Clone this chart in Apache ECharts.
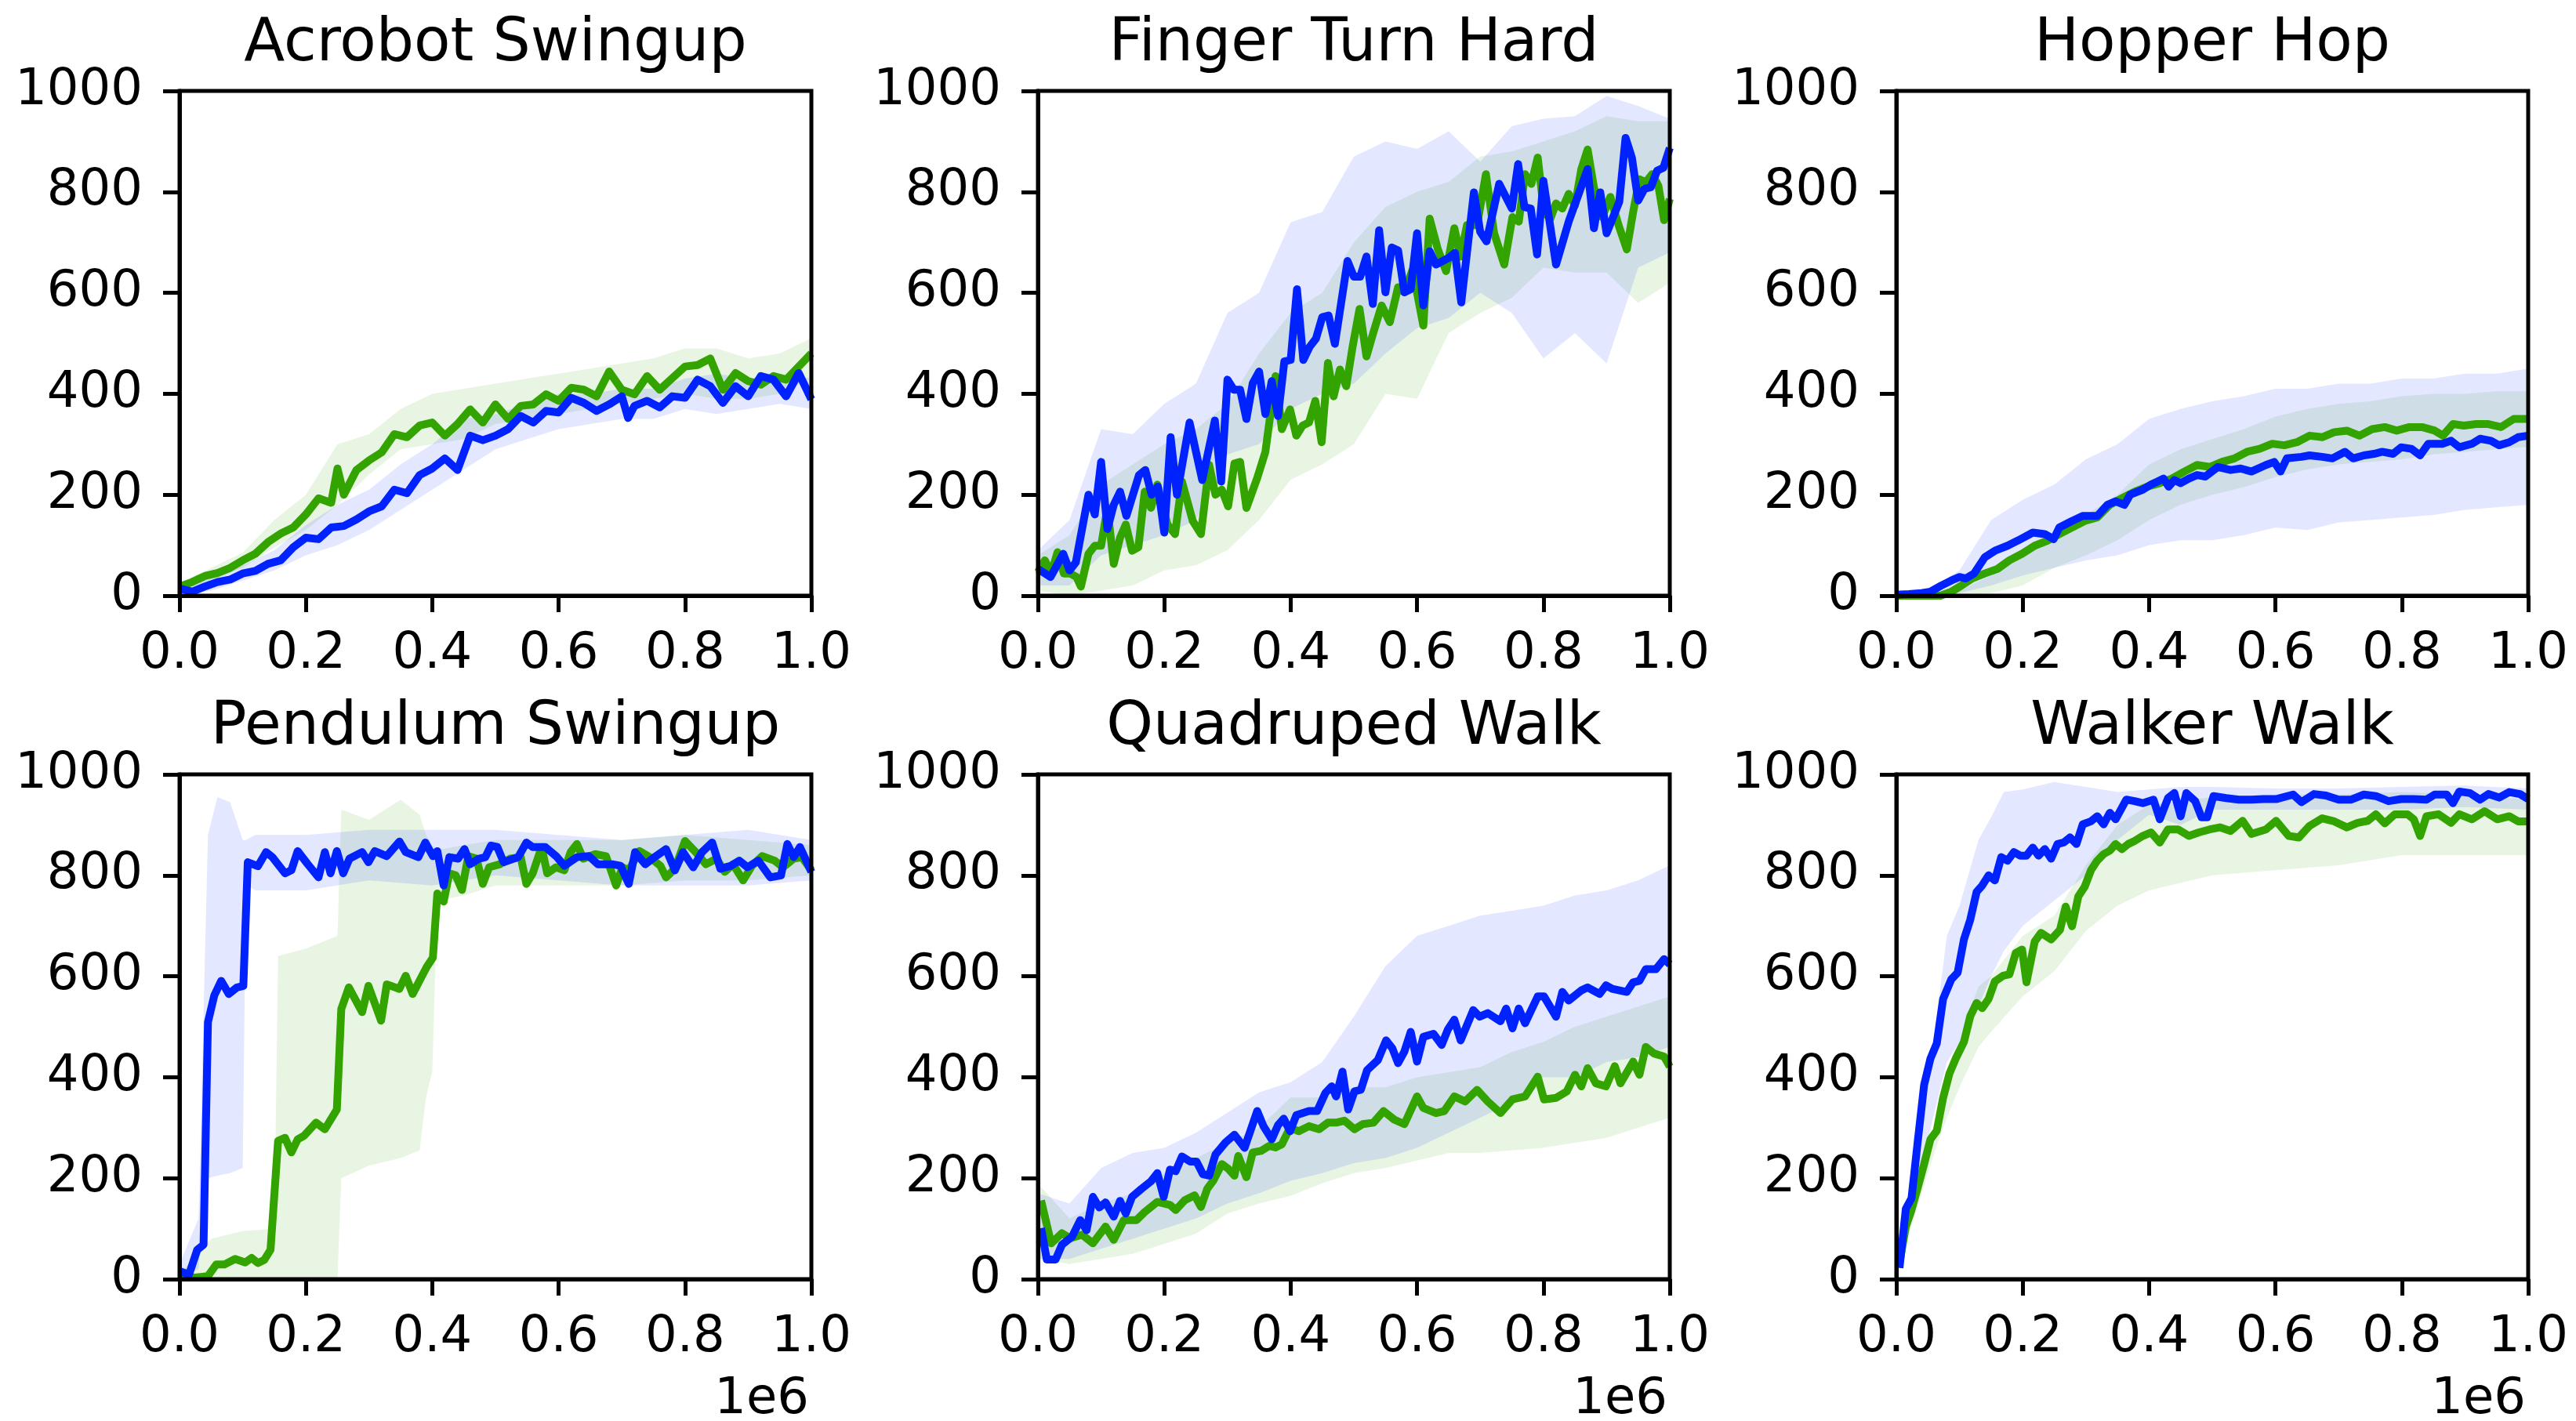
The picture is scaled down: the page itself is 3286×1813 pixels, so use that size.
<!DOCTYPE html>
<html><head><meta charset="utf-8">
<script src="https://cdn.jsdelivr.net/npm/echarts@6/dist/echarts.min.js"></script>
<style>html,body{margin:0;padding:0;background:#fff}#c{width:3286px;height:1813px}</style>
</head><body><div id="c"></div>
<script>
const titles = ['Acrobot Swingup','Finger Turn Hard','Hopper Hop','Pendulum Swingup','Quadruped Walk','Walker Walk'];
const xTickStep = 0.2, xMin = 0, xMax = 1;
const yTickStep = 200, yMin = 0, yMax = 1000;
const offsetText = '1e6';

// ---------- Acrobot Swingup ----------
const acroGreen = [[0,18],[0.02,27],[0.04,39],[0.06,45],[0.08,55],[0.1,70],[0.12,83],[0.14,106],[0.16,123],[0.18,135],[0.2,161],[0.22,193],[0.24,184],[0.25,252],[0.26,200],[0.28,249],[0.3,268],[0.32,284],[0.34,320],[0.36,314],[0.38,337],[0.4,343],[0.42,317],[0.44,340],[0.46,369],[0.48,343],[0.5,379],[0.52,350],[0.54,376],[0.56,379],[0.58,399],[0.6,386],[0.62,412],[0.64,408],[0.66,395],[0.68,444],[0.7,408],[0.72,399],[0.74,435],[0.76,408],[0.78,431],[0.8,454],[0.82,457],[0.84,470],[0.86,408],[0.88,441],[0.9,425],[0.92,418],[0.94,435],[0.96,428],[0.98,454],[1,480]];
const acroBlue = [[0,14],[0.02,8],[0.04,18],[0.06,27],[0.08,32],[0.1,44],[0.12,49],[0.14,63],[0.16,70],[0.18,96],[0.2,115],[0.22,112],[0.24,135],[0.26,138],[0.28,151],[0.3,167],[0.32,177],[0.34,210],[0.36,203],[0.38,239],[0.4,252],[0.42,272],[0.44,249],[0.46,317],[0.48,308],[0.5,317],[0.52,330],[0.54,356],[0.56,343],[0.58,366],[0.6,363],[0.62,392],[0.64,382],[0.66,366],[0.68,379],[0.7,395],[0.71,352],[0.72,376],[0.74,386],[0.76,373],[0.78,395],[0.8,392],[0.82,428],[0.84,415],[0.86,382],[0.88,415],[0.9,395],[0.92,435],[0.94,428],[0.96,395],[0.98,441],[1,389]];
const acroGreenBand = [[0,10,25],[0.05,30,55],[0.1,55,85],[0.15,95,150],[0.2,130,200],[0.25,180,300],[0.3,240,320],[0.35,290,370],[0.4,300,400],[0.45,310,410],[0.5,340,420],[0.55,350,430],[0.6,360,440],[0.65,370,450],[0.7,380,460],[0.75,390,470],[0.8,400,490],[0.85,390,490],[0.9,390,470],[0.95,400,480],[1,430,510]];
const acroBlueBand = [[0,0,20],[0.05,10,35],[0.1,30,60],[0.15,50,90],[0.2,80,140],[0.25,100,180],[0.3,130,210],[0.35,170,260],[0.4,210,300],[0.45,250,350],[0.5,290,360],[0.55,310,380],[0.6,330,400],[0.65,340,400],[0.7,350,410],[0.75,350,410],[0.8,370,430],[0.85,360,440],[0.9,370,430],[0.95,380,440],[1,370,430]];

// ---------- Finger Turn Hard ----------
const fingGreen = [[0,47],[0.011,70],[0.021,44],[0.031,86],[0.041,44],[0.051,44],[0.061,37],[0.068,18],[0.08,83],[0.09,99],[0.1,99],[0.11,174],[0.12,63],[0.13,115],[0.139,141],[0.149,89],[0.159,96],[0.169,206],[0.179,174],[0.189,220],[0.205,141],[0.217,122],[0.228,226],[0.245,148],[0.258,122],[0.271,259],[0.281,200],[0.291,210],[0.301,177],[0.311,262],[0.32,265],[0.33,174],[0.347,233],[0.36,285],[0.376,435],[0.386,330],[0.399,369],[0.409,317],[0.419,337],[0.429,343],[0.439,386],[0.449,304],[0.459,461],[0.468,395],[0.478,448],[0.488,415],[0.498,493],[0.509,568],[0.52,474],[0.531,522],[0.544,575],[0.557,542],[0.57,611],[0.58,601],[0.593,646],[0.61,535],[0.62,747],[0.633,686],[0.646,643],[0.659,728],[0.669,672],[0.679,734],[0.695,734],[0.709,835],[0.722,718],[0.738,656],[0.751,750],[0.761,741],[0.771,835],[0.781,816],[0.791,868],[0.801,760],[0.811,747],[0.82,777],[0.83,767],[0.84,796],[0.85,773],[0.86,845],[0.87,884],[0.88,809],[0.893,750],[0.906,790],[0.919,734],[0.932,686],[0.942,760],[0.952,825],[0.962,819],[0.972,835],[0.982,812],[0.991,744],[1,786]];
const fingBlue = [[0,53],[0.02,37],[0.04,83],[0.05,50],[0.06,66],[0.08,200],[0.09,161],[0.1,265],[0.11,132],[0.12,180],[0.13,206],[0.14,158],[0.16,239],[0.17,249],[0.18,200],[0.19,216],[0.2,125],[0.21,314],[0.22,200],[0.24,343],[0.26,229],[0.28,347],[0.29,226],[0.3,428],[0.31,408],[0.32,408],[0.33,350],[0.34,421],[0.35,444],[0.36,360],[0.37,425],[0.38,356],[0.39,464],[0.4,467],[0.41,607],[0.42,467],[0.43,493],[0.44,509],[0.45,552],[0.46,555],[0.47,499],[0.49,663],[0.5,632],[0.51,632],[0.52,672],[0.53,578],[0.54,724],[0.55,601],[0.56,690],[0.57,684],[0.58,601],[0.59,607],[0.6,718],[0.61,575],[0.62,682],[0.63,656],[0.65,669],[0.66,679],[0.67,581],[0.69,799],[0.7,721],[0.71,702],[0.73,816],[0.75,767],[0.76,855],[0.77,770],[0.78,767],[0.79,676],[0.8,822],[0.82,656],[0.84,741],[0.87,845],[0.88,728],[0.89,799],[0.9,718],[0.92,780],[0.93,907],[0.94,868],[0.95,783],[0.96,806],[0.97,809],[0.98,842],[0.99,848],[1,887]];
const fingGreenBand = [[0,10,80],[0.05,0,120],[0.1,10,220],[0.15,20,260],[0.2,50,300],[0.25,60,330],[0.3,90,380],[0.35,150,480],[0.4,230,560],[0.45,260,600],[0.5,300,700],[0.55,400,770],[0.6,390,800],[0.65,520,820],[0.7,560,870],[0.75,590,880],[0.8,650,900],[0.85,640,920],[0.9,640,950],[0.95,580,940],[1,620,940]];
const fingBlueBand = [[0,20,90],[0.05,20,150],[0.1,80,330],[0.15,100,320],[0.2,120,380],[0.25,150,420],[0.3,280,560],[0.35,300,600],[0.4,370,740],[0.45,400,760],[0.5,420,870],[0.55,480,900],[0.6,530,885],[0.65,550,920],[0.7,600,860],[0.75,560,930],[0.8,470,945],[0.85,520,950],[0.9,460,990],[0.95,650,970],[1,680,945]];

// ---------- Hopper Hop ----------
const hopGreen = [[0,0],[0.05,0],[0.07,0],[0.087,8],[0.103,20],[0.12,34],[0.14,44],[0.16,53],[0.179,70],[0.199,83],[0.219,99],[0.239,109],[0.258,122],[0.278,135],[0.298,148],[0.318,155],[0.338,180],[0.357,193],[0.377,206],[0.397,216],[0.417,223],[0.436,232],[0.456,246],[0.476,259],[0.496,255],[0.515,265],[0.535,272],[0.555,285],[0.575,291],[0.595,301],[0.614,298],[0.634,304],[0.654,317],[0.674,314],[0.693,324],[0.713,327],[0.733,317],[0.753,330],[0.773,334],[0.792,327],[0.812,334],[0.832,334],[0.852,327],[0.865,317],[0.881,340],[0.898,337],[0.918,340],[0.937,340],[0.957,334],[0.977,350],[1,350]];
const hopBlue = [[0,2],[0.02,3],[0.04,5],[0.054,8],[0.071,20],[0.087,30],[0.1,37],[0.11,34],[0.123,44],[0.14,76],[0.156,89],[0.176,99],[0.192,109],[0.216,125],[0.235,122],[0.249,112],[0.258,135],[0.278,148],[0.295,158],[0.318,158],[0.334,180],[0.347,187],[0.361,180],[0.37,200],[0.39,210],[0.403,220],[0.413,226],[0.423,232],[0.431,216],[0.44,229],[0.45,223],[0.463,232],[0.476,239],[0.489,236],[0.509,255],[0.529,249],[0.545,252],[0.562,246],[0.585,259],[0.598,265],[0.608,246],[0.618,272],[0.641,275],[0.654,278],[0.674,275],[0.69,272],[0.71,285],[0.723,272],[0.74,278],[0.756,281],[0.769,285],[0.786,281],[0.799,294],[0.815,291],[0.829,278],[0.842,301],[0.865,301],[0.878,307],[0.891,294],[0.911,301],[0.924,311],[0.941,307],[0.954,298],[0.97,304],[0.984,314],[1,317]];
const hopGreenBand = [[0,0,0],[0.05,0,0],[0.1,0,10],[0.15,5,40],[0.2,20,80],[0.25,55,120],[0.3,80,160],[0.35,110,200],[0.4,150,260],[0.45,180,290],[0.5,200,310],[0.55,215,330],[0.6,235,355],[0.65,250,370],[0.7,260,380],[0.75,265,385],[0.8,270,395],[0.85,280,400],[0.9,285,400],[0.95,290,405],[1,295,405]];
const hopBlueBand = [[0,0,3],[0.05,0,10],[0.1,5,50],[0.15,20,150],[0.2,40,190],[0.25,55,220],[0.3,70,270],[0.35,80,300],[0.4,100,350],[0.45,110,370],[0.5,110,385],[0.55,120,395],[0.6,135,410],[0.65,130,410],[0.7,145,420],[0.75,150,420],[0.8,155,430],[0.85,160,430],[0.9,170,440],[0.95,175,440],[1,180,450]];

// ---------- Pendulum Swingup ----------
const pendGreen = [[0,6],[0.025,3],[0.045,6],[0.058,29],[0.071,29],[0.088,40],[0.104,33],[0.114,42],[0.124,32],[0.134,38],[0.144,58],[0.156,274],[0.167,280],[0.177,251],[0.187,277],[0.197,284],[0.216,310],[0.23,297],[0.249,336],[0.256,535],[0.268,578],[0.289,529],[0.299,581],[0.319,512],[0.328,584],[0.348,575],[0.358,601],[0.369,565],[0.391,618],[0.401,637],[0.408,764],[0.418,748],[0.427,804],[0.437,800],[0.447,771],[0.457,838],[0.47,833],[0.48,783],[0.49,816],[0.507,822],[0.523,833],[0.54,836],[0.549,783],[0.559,804],[0.573,856],[0.582,804],[0.596,816],[0.609,810],[0.619,846],[0.629,862],[0.639,833],[0.658,842],[0.675,838],[0.691,780],[0.701,816],[0.711,810],[0.728,848],[0.744,836],[0.761,819],[0.77,796],[0.784,813],[0.8,868],[0.817,846],[0.833,822],[0.85,833],[0.863,807],[0.876,822],[0.892,790],[0.906,819],[0.922,838],[0.942,829],[0.955,816],[0.972,833],[0.985,836],[1,810]];
const pendBlue = [[0,16],[0.015,9],[0.028,58],[0.038,68],[0.045,509],[0.055,562],[0.066,591],[0.078,565],[0.091,578],[0.101,581],[0.108,826],[0.124,818],[0.137,846],[0.147,836],[0.167,804],[0.177,810],[0.187,848],[0.203,822],[0.22,796],[0.23,846],[0.239,804],[0.249,848],[0.259,804],[0.269,833],[0.289,846],[0.299,826],[0.309,848],[0.328,838],[0.348,867],[0.358,846],[0.378,836],[0.389,865],[0.401,838],[0.408,848],[0.418,780],[0.427,836],[0.441,833],[0.451,852],[0.46,822],[0.474,833],[0.484,836],[0.493,859],[0.503,856],[0.513,826],[0.536,836],[0.549,865],[0.559,856],[0.579,856],[0.596,838],[0.609,819],[0.629,836],[0.648,838],[0.662,822],[0.685,822],[0.698,819],[0.711,783],[0.721,846],[0.737,822],[0.754,838],[0.77,852],[0.784,810],[0.797,846],[0.813,816],[0.827,846],[0.843,865],[0.856,813],[0.873,819],[0.886,829],[0.899,816],[0.916,829],[0.935,796],[0.952,800],[0.962,862],[0.972,836],[0.982,856],[1,807]];
const pendGreenBand = [[0,0,10],[0.05,0,80],[0.1,0,95],[0.15,0,100],[0.156,0,640],[0.2,0,655],[0.25,0,680],[0.256,200,930],[0.3,225,910],[0.35,240,950],[0.38,255,920],[0.39,360,880],[0.4,410,860],[0.408,750,850],[0.45,760,860],[0.5,780,870],[0.6,780,870],[0.7,780,870],[0.8,790,880],[0.9,790,870],[1,800,860]];
const pendBlueBand = [[0,0,30],[0.03,20,120],[0.045,200,880],[0.06,205,955],[0.08,210,945],[0.1,220,870],[0.105,780,870],[0.12,770,880],[0.2,770,880],[0.3,790,890],[0.4,780,890],[0.5,800,890],[0.6,790,880],[0.7,780,870],[0.8,780,880],[0.9,780,890],[1,790,870]];

// ---------- Quadruped Walk ----------
const quadGreen = [[0.005,156],[0.021,71],[0.038,91],[0.051,81],[0.07,88],[0.087,71],[0.107,104],[0.12,78],[0.136,117],[0.156,117],[0.169,133],[0.189,153],[0.209,147],[0.218,137],[0.232,156],[0.248,166],[0.258,143],[0.268,179],[0.278,196],[0.291,228],[0.301,219],[0.311,205],[0.317,244],[0.33,202],[0.34,251],[0.353,254],[0.366,264],[0.376,261],[0.386,267],[0.399,300],[0.413,293],[0.429,303],[0.445,297],[0.459,310],[0.472,310],[0.485,314],[0.501,297],[0.514,307],[0.531,310],[0.547,333],[0.564,316],[0.58,307],[0.6,362],[0.61,339],[0.63,329],[0.643,333],[0.659,362],[0.676,352],[0.695,375],[0.712,352],[0.732,329],[0.751,356],[0.771,362],[0.791,401],[0.801,356],[0.82,359],[0.837,372],[0.85,405],[0.86,382],[0.87,418],[0.883,388],[0.899,382],[0.913,422],[0.922,388],[0.942,431],[0.952,405],[0.962,460],[0.975,447],[0.991,441],[1,421]];
const quadBlue = [[0.005,101],[0.014,39],[0.028,39],[0.038,68],[0.054,84],[0.067,117],[0.077,97],[0.087,163],[0.097,142],[0.107,152],[0.12,124],[0.13,155],[0.139,130],[0.149,163],[0.163,178],[0.179,194],[0.189,210],[0.199,163],[0.209,217],[0.218,214],[0.228,243],[0.241,233],[0.251,233],[0.261,208],[0.271,205],[0.281,247],[0.297,271],[0.311,286],[0.327,260],[0.347,333],[0.357,303],[0.37,277],[0.38,305],[0.389,318],[0.399,293],[0.409,325],[0.429,333],[0.442,333],[0.455,369],[0.465,382],[0.472,362],[0.482,411],[0.491,336],[0.501,372],[0.511,375],[0.521,414],[0.538,434],[0.551,473],[0.561,457],[0.57,428],[0.58,451],[0.59,490],[0.6,431],[0.61,480],[0.626,486],[0.639,464],[0.649,495],[0.659,514],[0.669,473],[0.689,533],[0.699,520],[0.712,527],[0.732,511],[0.741,536],[0.751,497],[0.761,536],[0.771,507],[0.791,560],[0.801,560],[0.82,520],[0.83,569],[0.84,552],[0.86,572],[0.87,578],[0.889,565],[0.899,582],[0.909,575],[0.932,569],[0.942,588],[0.952,591],[0.962,614],[0.978,614],[0.991,634],[1,624]];
const quadGreenBand = [[0,40,190],[0.05,30,120],[0.1,40,150],[0.15,50,170],[0.2,70,210],[0.25,90,240],[0.3,130,270],[0.35,150,300],[0.4,165,360],[0.45,190,360],[0.5,210,380],[0.55,220,380],[0.6,235,400],[0.65,250,410],[0.7,250,420],[0.75,255,450],[0.8,260,470],[0.85,270,500],[0.9,280,520],[0.95,300,540],[1,320,560]];
const quadBlueBand = [[0,40,170],[0.05,40,150],[0.1,60,220],[0.15,80,250],[0.2,100,260],[0.25,120,290],[0.3,150,330],[0.35,170,370],[0.4,195,390],[0.45,210,430],[0.5,230,520],[0.55,240,620],[0.6,260,680],[0.65,290,700],[0.7,320,720],[0.75,350,730],[0.8,400,740],[0.85,400,760],[0.9,430,770],[0.95,440,790],[1,460,820]];

// ---------- Walker Walk ----------
const walkGreen = [[0.005,32],[0.015,104],[0.024,137],[0.034,182],[0.044,228],[0.054,277],[0.064,294],[0.074,359],[0.084,407],[0.094,437],[0.107,470],[0.117,521],[0.127,547],[0.136,537],[0.146,555],[0.156,590],[0.169,601],[0.179,604],[0.189,646],[0.199,653],[0.206,588],[0.219,669],[0.229,686],[0.245,673],[0.259,692],[0.268,738],[0.278,699],[0.288,758],[0.298,777],[0.308,810],[0.318,829],[0.328,842],[0.338,849],[0.347,862],[0.357,852],[0.367,862],[0.377,868],[0.39,878],[0.403,885],[0.417,865],[0.43,891],[0.446,891],[0.463,878],[0.479,885],[0.496,891],[0.512,895],[0.529,888],[0.548,908],[0.562,882],[0.585,891],[0.601,908],[0.621,878],[0.637,875],[0.654,898],[0.674,913],[0.693,907],[0.713,895],[0.73,904],[0.746,908],[0.759,921],[0.773,903],[0.789,921],[0.809,921],[0.819,911],[0.829,878],[0.839,917],[0.858,921],[0.878,904],[0.891,921],[0.911,911],[0.931,927],[0.951,911],[0.97,917],[0.984,907],[1,907]];
const walkBlue = [[0.005,22],[0.015,139],[0.024,160],[0.034,274],[0.044,385],[0.054,437],[0.064,467],[0.074,555],[0.087,594],[0.097,607],[0.107,673],[0.117,712],[0.127,767],[0.136,780],[0.146,800],[0.156,790],[0.166,836],[0.176,829],[0.186,846],[0.196,839],[0.206,839],[0.216,855],[0.225,839],[0.235,852],[0.245,833],[0.255,862],[0.265,865],[0.275,875],[0.285,862],[0.295,901],[0.308,907],[0.318,917],[0.328,901],[0.338,924],[0.347,911],[0.364,950],[0.377,947],[0.39,943],[0.407,950],[0.417,911],[0.43,953],[0.44,963],[0.45,917],[0.459,963],[0.473,947],[0.483,915],[0.492,915],[0.502,957],[0.522,953],[0.542,950],[0.562,950],[0.581,951],[0.601,951],[0.628,960],[0.641,945],[0.661,961],[0.68,958],[0.7,950],[0.72,950],[0.74,960],[0.759,957],[0.779,947],[0.799,951],[0.819,951],[0.839,950],[0.852,960],[0.871,960],[0.881,943],[0.891,966],[0.908,963],[0.924,950],[0.937,961],[0.954,954],[0.97,965],[0.987,961],[1,951]];
const walkGreenBand = [[0.005,25,40],[0.02,90,140],[0.04,170,230],[0.06,250,300],[0.08,320,400],[0.1,380,470],[0.13,460,580],[0.15,490,600],[0.2,560,680],[0.25,610,720],[0.3,690,820],[0.35,740,900],[0.4,770,940],[0.5,800,955],[0.6,810,960],[0.7,820,960],[0.8,840,965],[0.9,840,960],[1,840,950]];
const walkBlueBand = [[0.005,15,30],[0.02,120,170],[0.04,220,330],[0.06,330,480],[0.08,430,680],[0.1,470,740],[0.13,540,870],[0.15,600,915],[0.17,650,965],[0.2,700,970],[0.25,750,985],[0.3,800,975],[0.35,870,965],[0.4,920,970],[0.45,900,975],[0.5,930,975],[0.6,930,972],[0.7,930,972],[0.8,930,975],[0.9,935,978],[1,930,972]];

const greenLines = [acroGreen, fingGreen, hopGreen, pendGreen, quadGreen, walkGreen];
const blueLines = [acroBlue, fingBlue, hopBlue, pendBlue, quadBlue, walkBlue];
const greenBands = [acroGreenBand, fingGreenBand, hopGreenBand, pendGreenBand, quadGreenBand, walkGreenBand];
const blueBands = [acroBlueBand, fingBlueBand, hopBlueBand, pendBlueBand, quadBlueBand, walkBlueBand];

// ---------- layout / style ----------
const BLUE = '#0022FF', GREEN = '#33A300';
const BLUE_FILL = 'rgba(0,34,255,0.11)', GREEN_FILL = 'rgba(51,163,0,0.11)';
const FONT = 'DejaVu Sans';
const colLeft = [229, 1324, 2419], rowTop = [116, 988], W = 806, H = 644;

const grids = [], xAxes = [], yAxes = [], series = [], graphics = [];
for (let i = 0; i < 6; i++) {
  const c = i % 3, r = Math.floor(i / 3);
  const left = colLeft[c], top = rowTop[r];
  grids.push({left, top, width: W, height: H, show: true, borderColor: '#000', borderWidth: 5, backgroundColor: 'transparent', z: 10});
  xAxes.push({type: 'value', gridIndex: i, min: xMin, max: xMax, interval: xTickStep, z: 10,
    axisLine: {show: true, onZero: false, lineStyle: {color: '#000', width: 5}},
    axisTick: {show: true, inside: false, length: 21, lineStyle: {color: '#000', width: 5}},
    axisLabel: {show: true, margin: 43, color: '#000', fontSize: 64, fontFamily: FONT, formatter: v => v.toFixed(1)},
    splitLine: {show: false}});
  yAxes.push({type: 'value', gridIndex: i, min: yMin, max: yMax, interval: yTickStep, z: 10,
    axisLine: {show: true, onZero: false, lineStyle: {color: '#000', width: 5}},
    axisTick: {show: true, inside: false, length: 21, lineStyle: {color: '#000', width: 5}},
    axisLabel: {show: true, margin: 47, color: '#000', fontSize: 64, fontFamily: FONT, padding: [14, 0, 0, 0], formatter: v => String(v)},
    splitLine: {show: false}});
  const mkBand = (band, fill, z) => ({
    type: 'custom', xAxisIndex: i, yAxisIndex: i, clip: true, silent: true, z: z,
    data: band, encode: {x: 0, y: [1, 2]},
    renderItem: function (params, api) {
      if (params.dataIndex !== 0) return null;
      const up = band.map(p => api.coord([p[0], p[2]]));
      const dn = band.slice().reverse().map(p => api.coord([p[0], p[1]]));
      return {type: 'polygon', shape: {points: up.concat(dn)}, style: {fill: fill}};
    }
  });
  series.push(mkBand(greenBands[i], GREEN_FILL, 1));
  series.push(mkBand(blueBands[i], BLUE_FILL, 1));
  series.push({type: 'line', xAxisIndex: i, yAxisIndex: i, data: greenLines[i], showSymbol: false, symbol: 'none', clip: true, z: 3,
    lineStyle: {color: GREEN, width: 10, join: 'round'}});
  series.push({type: 'line', xAxisIndex: i, yAxisIndex: i, data: blueLines[i], showSymbol: false, symbol: 'none', clip: true, z: 4,
    lineStyle: {color: BLUE, width: 10, join: 'round'}});
  graphics.push({type: 'text', x: left + W / 2, y: top - 58.5, z: 20,
    style: {text: titles[i], fontSize: 76, fontFamily: FONT, fill: '#000', align: 'center', verticalAlign: 'middle', textAlign: 'center', textVerticalAlign: 'middle'}});
  if (r === 1) {
    graphics.push({type: 'text', x: left + W - 3, y: 1786, z: 20,
      style: {text: offsetText, fontSize: 64, fontFamily: FONT, fill: '#000', align: 'right', verticalAlign: 'middle', textAlign: 'right', textVerticalAlign: 'middle'}});
  }
}

const chart = echarts.init(document.getElementById('c'), null, {renderer: 'canvas'});
chart.setOption({animation: false, backgroundColor: '#fff', grid: grids, xAxis: xAxes, yAxis: yAxes, series: series, graphic: graphics});
</script></body></html>
